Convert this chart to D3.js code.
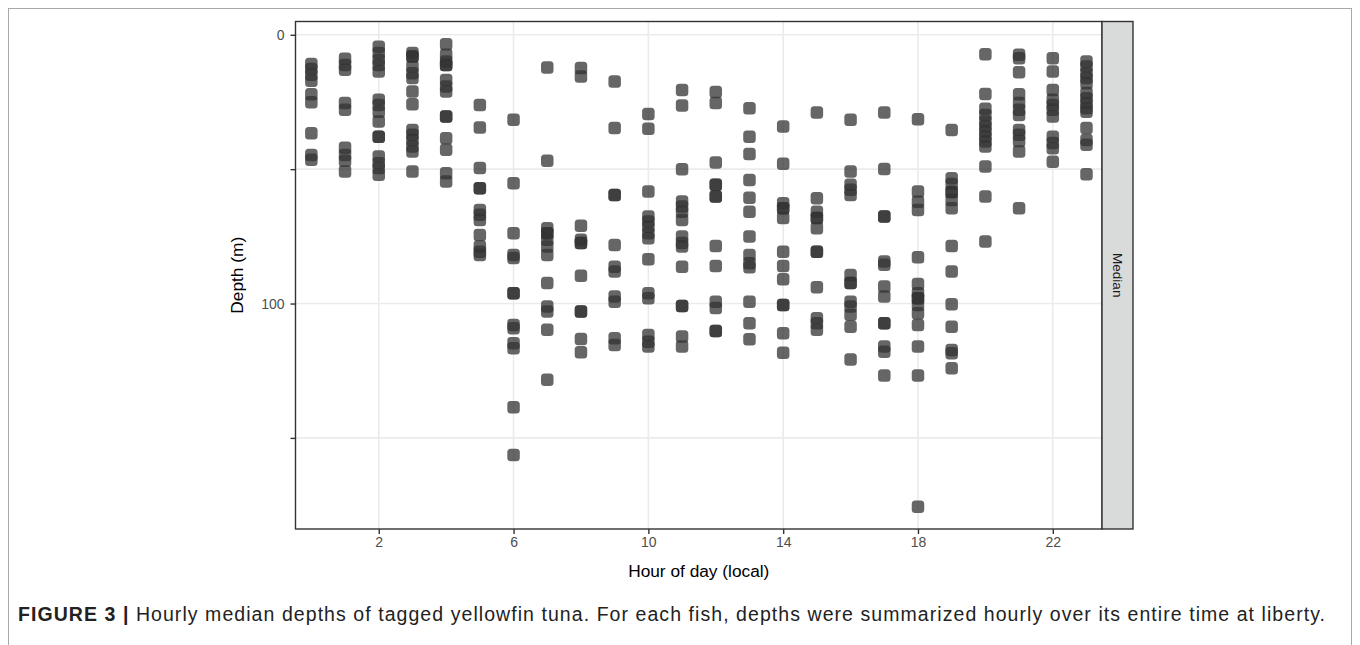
<!DOCTYPE html>
<html>
<head>
    <meta charset="utf-8"/>
    <title>Hourly median depths</title>
    <script src="https://cdn.jsdelivr.net/npm/d3@7"></script>
    <style>
        body { margin: 0; background-color: #ffffff; font-family: "Liberation Sans", Arial, sans-serif; }
        svg { display: block; }
    </style>
</head>
<body>
    <svg id="chart" width="1360" height="645"></svg>

    <script>

    // hour of day (local)
    var hours = [0,1,2,3,4,5,6,7,8,9,10,11,12,13,14,15,16,17,18,19,20,21,22,23];

    // median depths (m) for each fish, one list per hour
    var depths = [
        [10.9,12.7,14.9,17.1,22.1,25.1,36.6,44.7,46.5],
        [8.9,11.2,13.0,25.4,27.9,42.0,44.7,46.9,50.9],
        [4.4,6.8,9.3,11.2,13.7,24.2,26.1,28.6,32.3,37.9,37.9,45.3,47.8,49.6,52.1],
        [6.8,8.1,8.1,11.8,14.3,16.1,21.1,25.8,35.4,37.2,39.1,41.6,43.4,50.9],
        [3.5,7.4,9.9,11.2,11.2,16.8,19.2,21.1,30.4,30.4,38.5,42.8,51.5,54.6],
        [26.1,34.5,49.6,57.1,57.1,65.2,67.0,68.9,74.5,78.8,80.7,81.9],
        [31.6,55.2,73.8,81.9,83.1,96.2,96.2,108.0,109.2,114.8,116.6,138.6,156.4],
        [12.2,46.9,72.0,73.8,73.8,76.3,78.8,81.9,92.4,101.1,103.0,109.8,128.4],
        [12.4,15.5,71.1,76.3,77.5,77.5,89.7,103.0,103.0,113.2,118.1],
        [17.4,34.7,59.6,59.6,78.2,86.3,88.1,97.4,99.3,112.9,115.4],
        [29.5,35.0,58.3,67.6,69.5,71.4,73.8,75.7,83.5,96.2,98.0,111.7,114.2,116.0],
        [20.5,26.3,50.0,62.0,63.9,65.8,68.9,75.1,77.5,78.8,86.3,100.9,100.9,112.3,116.0],
        [21.3,25.4,47.5,55.8,55.8,60.2,60.2,78.6,86.0,99.3,101.7,110.2,110.2],
        [27.3,37.9,44.4,54.0,60.6,65.8,75.1,81.9,85.0,86.5,99.3,107.3,113.3],
        [34.1,48.0,62.7,64.5,64.5,68.2,80.7,86.0,91.0,100.5,100.5,111.1,118.3],
        [28.9,60.8,65.8,68.2,68.2,72.0,80.7,80.7,93.9,105.5,107.3,109.8],
        [31.6,50.9,55.8,57.7,59.6,89.4,92.4,92.4,99.3,101.1,104.2,108.6,120.8],
        [28.9,49.9,67.6,67.6,84.4,85.6,93.7,97.4,107.3,107.3,116.0,117.9,126.8],
        [31.4,58.3,62.1,65.2,82.8,92.7,96.2,98.0,98.0,100.5,103.6,108.0,116.0,126.8,175.6],
        [35.4,53.4,55.5,58.5,58.5,61.5,64.5,78.6,88.1,100.3,108.6,117.3,118.5,124.1],
        [7.2,22.0,27.5,29.8,32.3,34.1,36.0,37.9,39.7,41.6,49.0,60.2,76.9],
        [7.4,8.7,13.9,22.1,25.4,27.9,29.8,35.4,37.2,39.5,43.4,64.5],
        [8.7,13.7,20.5,24.2,26.1,27.9,30.4,37.9,40.3,42.2,47.2],
        [9.9,11.8,14.3,16.1,18.0,21.7,23.6,25.4,27.3,28.6,34.7,39.1,40.9,51.9]
    ];

    var xTicks = [2, 6, 10, 14, 18, 22];
    var yTicks = [0, 50, 100, 150];
    var yLabels = ["0", "", "100", ""];

    var stripLabel = "Median";
    var xTitle = "Hour of day (local)";
    var yTitle = "Depth (m)";
    var captionBold = "FIGURE 3 |";
    var captionText = " Hourly median depths of tagged yellowfin tuna. For each fish, depths were summarized hourly over its entire time at liberty.";

    var svg = d3.select("#chart");

    // panel edges (note: "top" is taken by window.top)
    var pLeft = 295.5, pRight = 1102, pTop = 21.5, pBottom = 529;

    var x = d3.scaleLinear().domain([-0.47, 23.46]).range([pLeft, pRight]);
    var y = d3.scaleLinear().domain([-4.95, 183.9]).range([pTop, pBottom]);

    //Outer frame of the figure
    svg.append("rect").attr("x", 8.5).attr("y", 8.5).attr("width", 1343).attr("height", 700)
        .attr("fill", "none").attr("stroke", "#a8a8a8").attr("stroke-width", 1);

    //Grid
    svg.append("g").selectAll("line.hgrid").data(yTicks).enter()
        .append("line").attr("class", "hgrid")
        .attr("x1", pLeft).attr("x2", pRight)
        .attr("y1", function(d) { return y(d); }).attr("y2", function(d) { return y(d); })
        .attr("stroke", "#ebebeb").attr("stroke-width", 1.6);
    svg.append("g").selectAll("line.vgrid").data(xTicks).enter()
        .append("line").attr("class", "vgrid")
        .attr("y1", pTop).attr("y2", pBottom)
        .attr("x1", function(d) { return x(d); }).attr("x2", function(d) { return x(d); })
        .attr("stroke", "#ebebeb").attr("stroke-width", 1.6);

    //Points
    var points = [];
    hours.forEach(function(h, i) {
        depths[i].forEach(function(d) { points.push({hour: h, depth: d}); });
    });
    var s = 12.5;
    svg.append("g").selectAll("rect.pt").data(points).enter()
        .append("rect").attr("class", "pt")
        .attr("x", function(d) { return x(d.hour) - s / 2; })
        .attr("y", function(d) { return y(d.depth) - s / 2; })
        .attr("width", s).attr("height", s).attr("rx", 3.5)
        .attr("fill", "#333333").attr("opacity", 0.75);

    //Panel border
    svg.append("rect").attr("x", pLeft).attr("y", pTop).attr("width", pRight - pLeft).attr("height", pBottom - pTop)
        .attr("fill", "none").attr("stroke", "#333333").attr("stroke-width", 1.4);

    //Axes
    var axX = d3.axisBottom(x).tickValues(xTicks).tickSize(5).tickPadding(3);
    var gx = svg.append("g").attr("transform", "translate(0," + pBottom + ")").call(axX);
    var axY = d3.axisLeft(y).tickValues(yTicks).tickSize(5).tickPadding(6)
        .tickFormat(function(d, i) { return yLabels[i]; });
    var gy = svg.append("g").attr("transform", "translate(" + pLeft + ",0)").call(axY);
    [gx, gy].forEach(function(g) {
        g.select(".domain").remove();
        g.selectAll("line").attr("stroke", "#333333").attr("stroke-width", 1.4);
        g.selectAll("text").attr("fill", "#4d4d4d").attr("font-size", 14)
            .attr("font-family", "Liberation Sans, Arial, sans-serif");
    });

    //Strip
    svg.append("rect").attr("x", pRight).attr("y", pTop).attr("width", 31).attr("height", pBottom - pTop)
        .attr("fill", "#d9dbdb").attr("stroke", "#333333").attr("stroke-width", 1.4);
    svg.append("text").text(stripLabel)
        .attr("transform", "translate(" + (pRight + 15.5) + "," + ((pTop + pBottom) / 2) + ") rotate(90)")
        .attr("text-anchor", "middle").attr("dy", "0.35em")
        .attr("font-size", 13.5).attr("fill", "#1a1a1a");

    //Titles
    svg.append("text").text(xTitle)
        .attr("x", (pLeft + pRight) / 2).attr("y", 577)
        .attr("text-anchor", "middle").attr("font-size", 17.3).attr("fill", "#000000");
    svg.append("text").text(yTitle)
        .attr("transform", "translate(243," + ((pTop + pBottom) / 2) + ") rotate(-90)")
        .attr("text-anchor", "middle").attr("font-size", 17.3).attr("fill", "#000000");

    //Caption
    var cap = svg.append("text").attr("x", 18).attr("y", 621).attr("font-size", 19.5).attr("fill", "#222222")
        .attr("textLength", 1307).attr("lengthAdjust", "spacing");
    cap.append("tspan").text(captionBold).attr("font-weight", "bold");
    cap.append("tspan").text(captionText);

    </script>
</body>
</html>
